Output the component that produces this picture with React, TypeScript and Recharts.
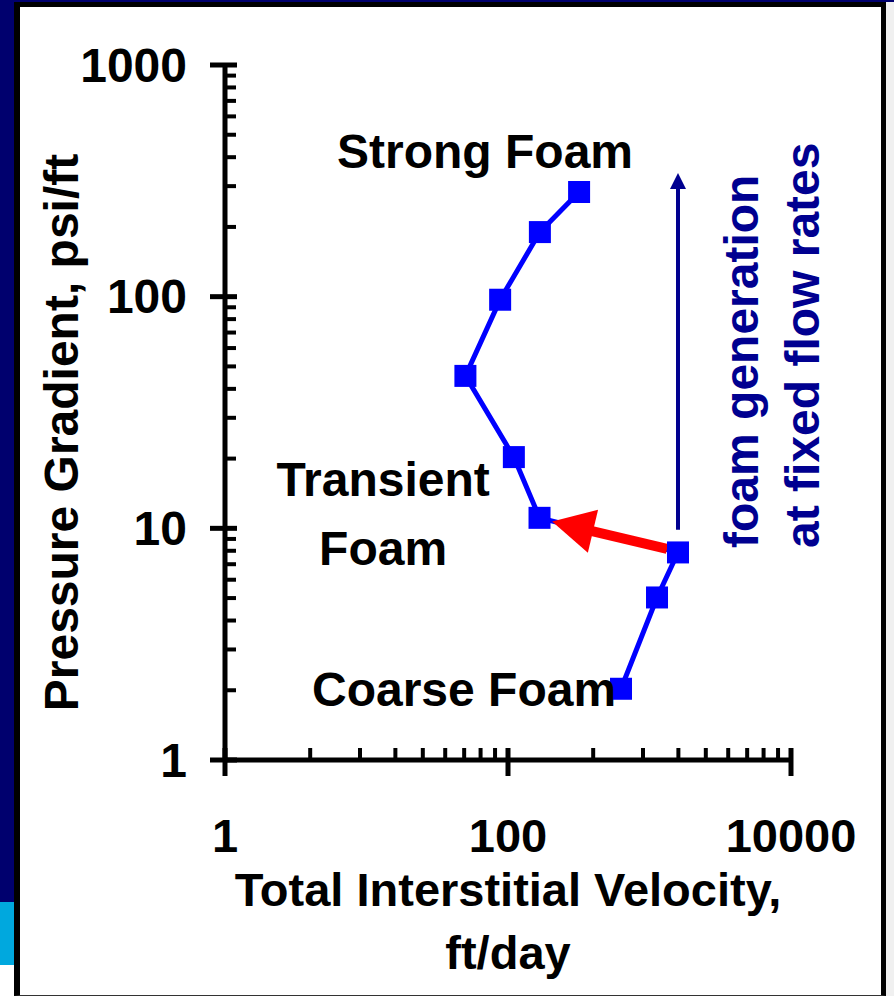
import { LineChart, Line, XAxis, YAxis, ReferenceLine, ReferenceDot, Label } from 'recharts';

// measured points, in plotting order
const velocity = [318, 168, 88, 50, 110, 167, 1590, 1130, 629];
const gradient = [283, 190, 97, 45.5, 20.3, 11.1, 7.87, 5.03, 2.03];

const xMajor = [1, 100, 10000];
const xMinor = [4, 9, 16, 25, 36, 49, 64, 81, 400, 900, 1600, 2500, 3600, 4900, 6400, 8100];
const yMajor = [1, 10, 100, 1000];
const yMinor = [2, 3, 4, 5, 6, 7, 8, 9, 20, 30, 40, 50, 60, 70, 80, 90, 200, 300, 400, 500, 600, 700, 800, 900];

const noteText = ['Strong Foam', 'Transient', 'Foam', 'Coarse Foam'];
const noteX = [68.8, 13.1, 13.1, 48.9];
const noteY = [425, 16.2, 8.2, 2.01];

// red arrow (from coarse branch back to transient), navy arrow (foam generation)
const redArrowFrom = { x: 1330, y: 8.15 };
const redArrowTo = { x: 205, y: 10.7 };
const navyArrowFrom = { x: 1590, y: 9.85 };
const navyArrowTo = { x: 1590, y: 342 };
const sideNote = ['foam generation', 'at fixed flow rates'];
const sideNoteAt = { x: 4505, y: 8.23 };

const rows = velocity.map((v, i) => ({ v, p: gradient[i] }));

const FONT = '"Liberation Sans", Arial, sans-serif';
const FS = 48;
const NAVY = '#000090';

const XTick = (props: any) => {
    const { x, y, payload } = props;
    const major = xMajor.includes(payload.value);
    if (!major) {
        return <line x1={x} y1={y} x2={x} y2={y - 12} stroke="#000" strokeWidth={4} />;
    }
    return (
        <g>
            <line x1={x} y1={y - 12} x2={x} y2={y + 16} stroke="#000" strokeWidth={5} />
            <text x={x} y={y + 75} textAnchor="middle" dominantBaseline="central"
                fontFamily={FONT} fontWeight="bold" fontSize={47} fill="#000">
                {payload.value}
            </text>
        </g>
    );
};

const YTick = (props: any) => {
    const { x, y, payload } = props;
    const major = yMajor.includes(payload.value);
    if (!major) {
        return <line x1={x} y1={y} x2={x + 11} y2={y} stroke="#000" strokeWidth={4} />;
    }
    return (
        <g>
            <line x1={x - 15} y1={y} x2={x + 12} y2={y} stroke="#000" strokeWidth={5} />
            <text x={x - 38} y={y} textAnchor="end" dominantBaseline="central"
                fontFamily={FONT} fontWeight="bold" fontSize={FS} fill="#000">
                {payload.value}
            </text>
        </g>
    );
};

const makeArrow = (color: string, width: number, headLen: number, headHalf: number) => (props: any) => {
    const { x1, y1, x2, y2 } = props;
    if ([x1, y1, x2, y2].some((n) => typeof n !== 'number' || isNaN(n))) return <g />;
    const len = Math.hypot(x2 - x1, y2 - y1);
    const ux = (x2 - x1) / len;
    const uy = (y2 - y1) / len;
    const bx = x2 - ux * headLen;
    const by = y2 - uy * headLen;
    const pts = `${x2},${y2} ${bx - uy * headHalf},${by + ux * headHalf} ${bx + uy * headHalf},${by - ux * headHalf}`;
    return (
        <g>
            <line x1={x1} y1={y1} x2={bx + ux * 2} y2={by + uy * 2} stroke={color} strokeWidth={width} />
            <polygon points={pts} fill={color} />
        </g>
    );
};

const SquareDot = (props: any) => {
    const { cx, cy, index } = props;
    return <rect key={`sq-${index}`} x={cx - 11} y={cy - 11} width={22} height={22} fill="#0000FF" />;
};

export default function App() {
    return (
        <div style={{ position: 'absolute', left: 0, top: 0, width: 894, height: 996, background: '#00006E', overflow: 'hidden' }}>
            <div style={{ position: 'absolute', left: 0, top: 902, width: 14, height: 63, background: '#00A8DE' }} />
            <div style={{ position: 'absolute', left: 0, top: 965, width: 14, height: 31, background: '#fff' }} />
            <div style={{ position: 'absolute', left: 886, top: 2, width: 8, height: 994, background: '#f0f0f0' }} />
            <div
                style={{
                    position: 'absolute', left: 14, top: 2, width: 872, height: 994, boxSizing: 'border-box',
                    borderLeft: '6px solid #000', borderTop: '5px solid #000', borderRight: '5px solid #000',
                    borderBottom: '1px solid #333', background: '#fff',
                }}
            />
            <div style={{ position: 'absolute', left: 0, top: 0 }}>
                <LineChart width={894} height={996} data={rows} margin={{ top: 65, right: 103, bottom: 176, left: 165 }}>
                    <XAxis
                        dataKey="v"
                        type="number"
                        scale="log"
                        domain={[1, 10000]}
                        ticks={[...xMajor, ...xMinor]}
                        interval={0}
                        tickSize={0}
                        tickMargin={0}
                        tickLine={false}
                        tick={XTick}
                        axisLine={{ stroke: '#000', strokeWidth: 5 }}
                        height={60}
                        allowDataOverflow
                    >
                        <Label
                            content={(p: any) => {
                                const { x, y, width } = p.viewBox;
                                const cx = x + width / 2;
                                return (
                                    <g fontFamily={FONT} fontWeight="bold" fontSize={47} fill="#000">
                                        <text x={cx} y={y + 129} textAnchor="middle" dominantBaseline="central">
                                            Total Interstitial Velocity,
                                        </text>
                                        <text x={cx} y={y + 192} textAnchor="middle" dominantBaseline="central">
                                            ft/day
                                        </text>
                                    </g>
                                );
                            }}
                        />
                    </XAxis>
                    <YAxis
                        dataKey="p"
                        type="number"
                        scale="log"
                        domain={[1, 1000]}
                        ticks={[...yMajor, ...yMinor]}
                        interval={0}
                        tickSize={0}
                        tickMargin={0}
                        tickLine={false}
                        tick={YTick}
                        axisLine={{ stroke: '#000', strokeWidth: 5 }}
                        width={60}
                        allowDataOverflow
                    >
                        <Label
                            content={(p: any) => {
                                const { y, height } = p.viewBox;
                                const cx = 61;
                                const cy = y + height / 2 + 20;
                                return (
                                    <text x={cx} y={cy} transform={`rotate(-90, ${cx}, ${cy})`} textAnchor="middle"
                                        dominantBaseline="central" fontFamily={FONT} fontWeight="bold" fontSize={FS} fill="#000">
                                        Pressure Gradient, psi/ft
                                    </text>
                                );
                            }}
                        />
                    </YAxis>
                    <Line
                        dataKey="p"
                        stroke="#0000FF"
                        strokeWidth={5}
                        dot={SquareDot}
                        activeDot={false}
                        isAnimationActive={false}
                    />
                    <ReferenceLine
                        segment={[redArrowFrom, redArrowTo]}
                        shape={makeArrow('#FF0000', 10, 42, 22)}
                    />
                    <ReferenceLine
                        segment={[navyArrowFrom, navyArrowTo]}
                        shape={makeArrow(NAVY, 4, 16, 8)}
                    />
                    {noteText.map((t, i) => (
                        <ReferenceDot
                            key={t}
                            x={noteX[i]}
                            y={noteY[i]}
                            r={0}
                            ifOverflow="visible"
                            shape={(p: any) => (
                                <text x={p.cx} y={p.cy} textAnchor="middle" dominantBaseline="central"
                                    fontFamily={FONT} fontWeight="bold" fontSize={FS} fill="#000">
                                    {t}
                                </text>
                            )}
                        />
                    ))}
                    <ReferenceDot
                        x={sideNoteAt.x}
                        y={sideNoteAt.y}
                        r={0}
                        ifOverflow="visible"
                        shape={(p: any) => (
                            <g fontFamily={FONT} fontWeight="bold" fontSize={FS} fill={NAVY}>
                                {sideNote.map((s, i) => (
                                    <text key={s} x={p.cx + i * 61} y={p.cy} transform={`rotate(-90, ${p.cx + i * 61}, ${p.cy})`}
                                        textAnchor="start" dominantBaseline="central">
                                        {s}
                                    </text>
                                ))}
                            </g>
                        )}
                    />
                </LineChart>
            </div>
        </div>
    );
}
